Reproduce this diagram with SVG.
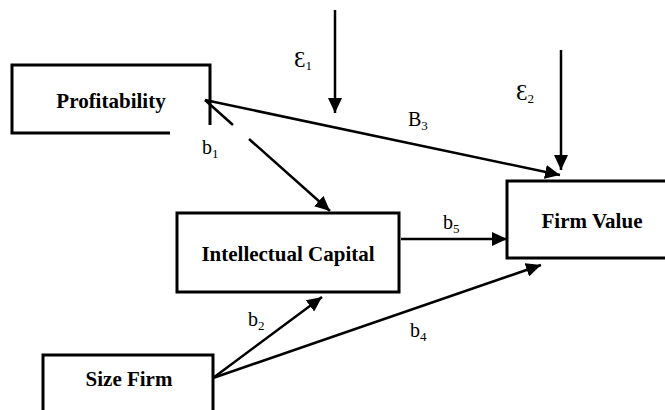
<svg xmlns="http://www.w3.org/2000/svg" width="665" height="410" viewBox="0 0 665 410">
<style>
.box{fill:none;stroke:#000;stroke-width:3}
.ln{fill:none;stroke:#000;stroke-width:2.5}
.nt{font-family:"Liberation Serif","Times New Roman",serif;font-weight:bold;font-size:21px;fill:#000;text-anchor:middle}
.lb{font-family:"Liberation Serif","DejaVu Serif",serif;font-size:20px;fill:#000}
.ep{font-size:23px}
.sb{font-size:13px}
</style>
<defs>
<marker id="ah" viewBox="0 0 15 14" refX="15" refY="7" markerWidth="15" markerHeight="14" markerUnits="userSpaceOnUse" orient="auto">
<path d="M0,0 L15,7 L0,14 Z" fill="#000"/>
</marker>
</defs>
<rect width="665" height="410" fill="#fff"/>
<g id="profitability">
<path class="box" d="M210,125 V65 H12 V133 H170"/>
<text class="nt" x="111" y="108">Profitability</text>
</g>
<g id="intellectual-capital">
<rect class="box" x="177" y="213" width="222" height="79"/>
<text class="nt" x="288" y="261">Intellectual Capital</text>
</g>
<g id="size-firm">
<path class="box" d="M43,420 V355 H213 V420"/>
<text class="nt" x="129" y="386">Size Firm</text>
</g>
<g id="firm-value">
<path class="box" d="M670,181 H507 V258 H670"/>
<text class="nt" x="592" y="228">Firm Value</text>
</g>
<g id="connectors">
<line class="ln" x1="335" y1="10" x2="335" y2="113" marker-end="url(#ah)"/>
<line class="ln" x1="561" y1="50" x2="561" y2="170" marker-end="url(#ah)"/>
<line class="ln" x1="205" y1="100" x2="560" y2="175" marker-end="url(#ah)"/>
<line class="ln" x1="205" y1="100" x2="233" y2="125"/>
<line class="ln" x1="249" y1="139" x2="330" y2="211" marker-end="url(#ah)"/>
<line class="ln" x1="401" y1="239" x2="507" y2="239" marker-end="url(#ah)"/>
<line class="ln" x1="213" y1="378" x2="322" y2="297" marker-end="url(#ah)"/>
<line class="ln" x1="213" y1="378" x2="541" y2="265" marker-end="url(#ah)"/>
</g>
<g id="labels">
<text class="lb" x="294" y="67"><tspan class="ep">Ɛ</tspan><tspan class="sb" dy="3">1</tspan></text>
<text class="lb" x="516" y="100"><tspan class="ep">Ɛ</tspan><tspan class="sb" dy="3">2</tspan></text>
<text class="lb" x="408" y="126">B<tspan class="sb" dy="4">3</tspan></text>
<text class="lb" x="202" y="154">b<tspan class="sb" dy="4">1</tspan></text>
<text class="lb" x="443" y="229">b<tspan class="sb" dy="4">5</tspan></text>
<text class="lb" x="248" y="326">b<tspan class="sb" dy="4">2</tspan></text>
<text class="lb" x="410" y="337">b<tspan class="sb" dy="4">4</tspan></text>
</g>
</svg>
